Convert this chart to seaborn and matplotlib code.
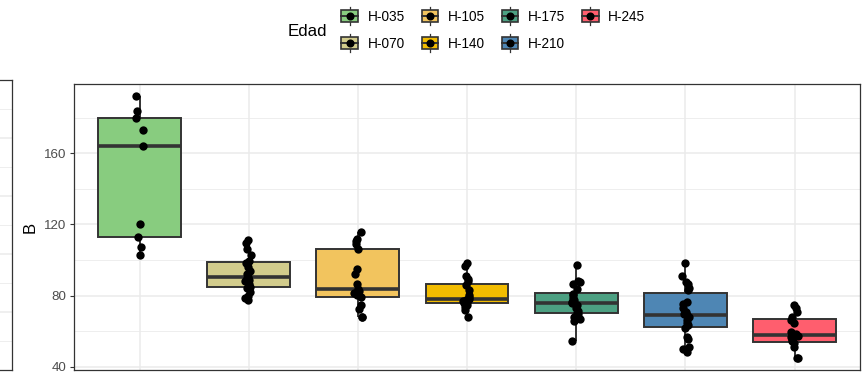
import numpy as np
import pandas as pd
import matplotlib
matplotlib.use("Agg")
import matplotlib.pyplot as plt
from matplotlib.legend_handler import HandlerBase
from matplotlib.patches import Rectangle
from matplotlib.lines import Line2D
import seaborn as sns

# ---- data -------------------------------------------------------------
edades = ["H-035", "H-070", "H-105", "H-140", "H-175", "H-210", "H-245"]

b_h035 = [102.8, 107.1, 113.1, 120.1, 164.1, 173.1, 180.0, 184.0, 192.2]
b_h070 = [77.5, 78.5, 80.0, 82.0, 84.2, 85.0, 86.5, 88.0, 89.0, 90.0,
          90.6, 92.0, 94.0, 96.0, 98.5, 99.5, 103.0, 106.0, 109.5, 111.2]
b_h105 = [67.8, 68.0, 72.3, 74.7, 79.0, 80.3, 81.5, 82.8, 83.8, 86.5,
          92.1, 94.8, 106.2, 109.0, 110.5, 112.0, 115.9]
b_h140 = [67.8, 72.0, 73.5, 74.5, 75.7, 76.1, 76.6, 77.0, 77.4, 77.7,
          78.1, 79.0, 80.3, 83.1, 86.0, 88.0, 91.0, 89.5, 96.6, 98.5]
b_h175 = [54.6, 65.9, 67.0, 68.1, 69.7, 70.1, 71.5, 73.0, 74.7, 75.6,
          76.4, 77.5, 78.5, 80.3, 81.0, 83.4, 86.5, 87.5, 88.0, 97.2]
b_h210 = [48.4, 50.0, 51.2, 55.4, 56.5, 61.6, 63.6, 64.6, 66.2, 68.0, 68.8,
          69.4, 71.0, 72.8, 75.0, 76.5, 83.3, 84.4, 86.5, 87.8, 91.0, 98.1]
b_h245 = [44.6, 44.9, 51.2, 53.4, 54.2, 55.5, 56.9, 57.4, 58.2, 59.7,
          64.7, 66.2, 67.8, 71.0, 72.8, 74.7]

colores = ["#88CC7F", "#D2CC8C", "#F2C45E", "#F2BC00",
           "#4CA082", "#4E86B4", "#FF5E6E"]

y_major = [40, 80, 120, 160]
y_minor = [60, 100, 140, 180]

series = [b_h035, b_h070, b_h105, b_h140, b_h175, b_h210, b_h245]
df = pd.DataFrame({
    "Edad": np.repeat(edades, [len(s) for s in series]),
    "B": np.concatenate(series),
})
df["Edad"] = pd.Categorical(df["Edad"], categories=edades, ordered=True)
paleta = dict(zip(edades, colores))

# ---- figure -----------------------------------------------------------
W, H = 867, 373
fig = plt.figure(figsize=(W / 100, H / 100), dpi=100)
plt.rcParams["font.family"] = ["Liberation Sans", "DejaVu Sans"]

def px_axes(left, top, right, bottom):
    return fig.add_axes([left / W, 1 - bottom / H, (right - left) / W, (bottom - top) / H])

grid_major = "#EBEBEB"
border = "#333333"

# neighbouring panel on the left edge
ax0 = px_axes(-60, 80, 12.5, 370)
ax0.set_xlim(0, 1)
ax0.set_ylim(0, 10)
for k in range(1, 10):
    ax0.axhline(k, color=grid_major, lw=1.1 if k % 2 == 0 else 0.6, zorder=0)
ax0.set_xticks([])
ax0.set_yticks([])
for s in ax0.spines.values():
    s.set_color(border)
    s.set_linewidth(0.9)

# main panel
ax = px_axes(74, 84, 860, 370)
sns.boxplot(data=df, x="Edad", y="B", hue="Edad", palette=paleta, legend=False,
            saturation=1, width=0.76, linewidth=1.4, linecolor=border,
            showfliers=False, showcaps=False, whis=1.5,
            medianprops=dict(linewidth=2.6, color=border),
            ax=ax, zorder=2)
np.random.seed(3)
sns.stripplot(data=df, x="Edad", y="B", color="black", jitter=0.04, size=6,
              linewidth=0, ax=ax, zorder=3)

ax.set_xlim(-0.6, 6.6)
ax.set_ylim(38.1, 199)
ax.set_yticks(y_major)
ax.set_yticks(y_minor, minor=True)
ax.set_xticks(range(len(edades)))
ax.set_xticklabels([])
ax.tick_params(axis="x", length=0)
ax.tick_params(axis="y", which="major", length=2.9, width=0.8, color=border,
               labelsize=9.6, labelcolor="#4D4D4D", pad=2.4)
ax.tick_params(axis="y", which="minor", length=0)
ax.grid(True, which="major", color=grid_major, lw=1.1)
ax.grid(True, which="minor", axis="y", color=grid_major, lw=0.6)
ax.set_axisbelow(True)
ax.set_xlabel("")
ax.set_ylabel("B", fontsize=12, labelpad=5)
for s in ax.spines.values():
    s.set_color(border)
    s.set_linewidth(0.9)


# legend keys: small boxplot glyph with a point
class BoxKey(HandlerBase):
    def create_artists(self, legend, orig_handle, xdescent, ydescent,
                       width, height, fontsize, trans):
        col = orig_handle.get_facecolor()
        cx = -xdescent + width / 2
        cy = -ydescent + height / 2
        bw, bh = width * 0.86, height * 0.72
        top, bot = -ydescent + height * 1.05, -ydescent - height * 0.05
        arts = [
            Line2D([cx, cx], [bot, top], color=border, lw=0.9),
            Rectangle((cx - bw / 2, cy - bh / 2), bw, bh, facecolor=col,
                      edgecolor=border, lw=1.2),
            Line2D([cx - bw / 2, cx + bw / 2], [cy, cy], color=border, lw=1.4),
            Line2D([cx], [cy], marker="o", color="black", markersize=4.8, lw=0),
        ]
        for a in arts:
            a.set_transform(trans)
        return arts


handles = [Rectangle((0, 0), 1, 1, facecolor=c) for c in colores]
fig.legend(handles, edades, handler_map={Rectangle: BoxKey()},
           loc="upper left", bbox_to_anchor=(340 / W, 1 - 8 / H),
           ncol=4, frameon=False, fontsize=9.8, borderpad=0, borderaxespad=0,
           handlelength=1.45, handleheight=1.5, handletextpad=0.6,
           columnspacing=1.1, labelspacing=0.75)
fig.text(288 / W, 1 - 32 / H, "Edad", fontsize=12.2, ha="left", va="center")

fig.savefig("out.png", dpi=100)
